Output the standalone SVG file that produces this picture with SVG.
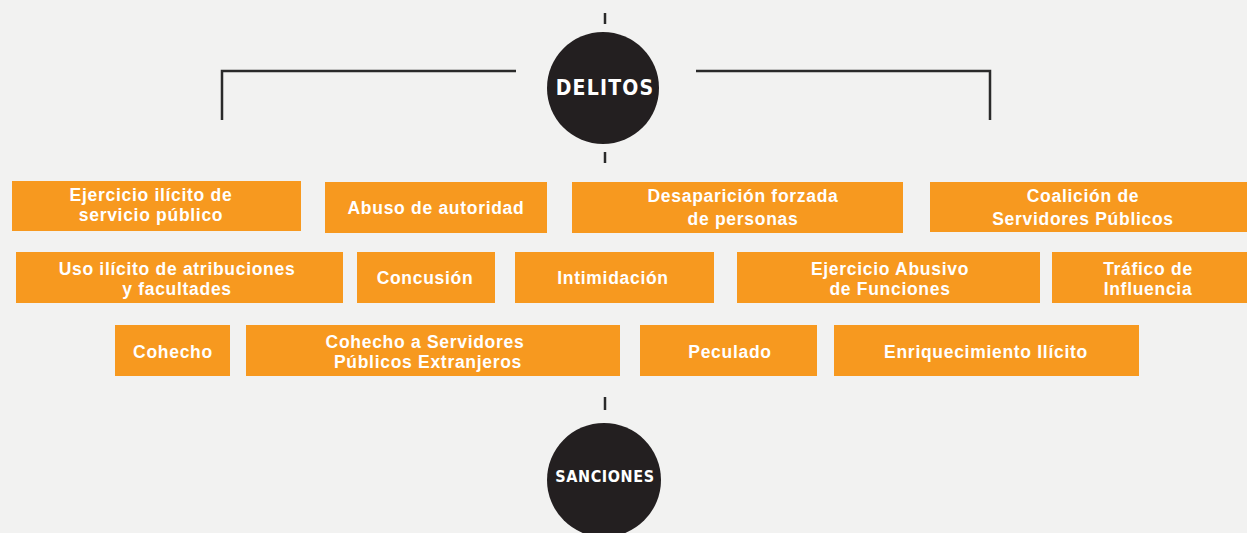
<svg xmlns="http://www.w3.org/2000/svg" width="1247" height="533" viewBox="0 0 1247 533">
<style>
.bg{fill:#f2f2f1}
.box{fill:#f7991f}
.t{font-family:"Liberation Sans",Arial,sans-serif;font-weight:700;font-size:17.5px;letter-spacing:0.7px;fill:#ffffff;text-anchor:middle}
.ln{stroke:#2a2a2a;stroke-width:2.5;fill:none}
.circ{fill:#231f20}
.ct{font-family:"DejaVu Sans Condensed","DejaVu Sans",sans-serif;font-weight:700;fill:#ffffff;text-anchor:middle}
</style>
<rect class="bg" x="0" y="0" width="1247" height="533"/>
<g id="connectors">
<line class="ln" x1="605" y1="13" x2="605" y2="24"/>
<line class="ln" x1="605" y1="152" x2="605" y2="163"/>
<polyline class="ln" points="222,120 222,71 516,71"/>
<polyline class="ln" points="696,71 990,71 990,120"/>
<line class="ln" x1="605" y1="397" x2="605" y2="410"/>
</g>
<g id="delitos">
<circle class="circ" cx="603" cy="88" r="56"/>
<text class="ct" x="605" y="95" font-size="21" letter-spacing="1.2">DELITOS</text>
</g>
<g id="sanciones">
<circle class="circ" cx="604" cy="480" r="57"/>
<text class="ct" x="605" y="482" font-size="16" letter-spacing="0.6">SANCIONES</text>
</g>
<g id="n1"><rect class="box" x="12" y="181" width="289" height="50"/><text class="t" x="151" y="201">Ejercicio ilícito de</text><text class="t" x="151" y="221">servicio público</text></g>
<g id="n2"><rect class="box" x="325" y="182" width="222" height="51"/><text class="t" x="436" y="214">Abuso de autoridad</text></g>
<g id="n3"><rect class="box" x="572" y="182" width="331" height="51"/><text class="t" x="743" y="202">Desaparición forzada</text><text class="t" x="743" y="225">de personas</text></g>
<g id="n4"><rect class="box" x="930" y="182" width="317" height="50"/><text class="t" x="1083" y="202">Coalición de</text><text class="t" x="1083" y="225">Servidores Públicos</text></g>
<g id="n5"><rect class="box" x="16" y="252" width="327" height="51"/><text class="t" x="177" y="275">Uso ilícito de atribuciones</text><text class="t" x="177" y="295">y facultades</text></g>
<g id="n6"><rect class="box" x="357" y="252" width="138" height="51"/><text class="t" x="425" y="284">Concusión</text></g>
<g id="n7"><rect class="box" x="515" y="252" width="199" height="51"/><text class="t" x="613" y="284">Intimidación</text></g>
<g id="n8"><rect class="box" x="737" y="252" width="303" height="51"/><text class="t" x="890" y="275">Ejercicio Abusivo</text><text class="t" x="890" y="295">de Funciones</text></g>
<g id="n9"><rect class="box" x="1052" y="252" width="195" height="51"/><text class="t" x="1148" y="275">Tráfico de</text><text class="t" x="1148" y="295">Influencia</text></g>
<g id="n10"><rect class="box" x="115" y="325" width="115" height="51"/><text class="t" x="173" y="358">Cohecho</text></g>
<g id="n11"><rect class="box" x="246" y="325" width="374" height="51"/><text class="t" x="425" y="348">Cohecho a Servidores</text><text class="t" x="428" y="368">Públicos Extranjeros</text></g>
<g id="n12"><rect class="box" x="640" y="325" width="177" height="51"/><text class="t" x="730" y="358">Peculado</text></g>
<g id="n13"><rect class="box" x="834" y="325" width="305" height="51"/><text class="t" x="986" y="358">Enriquecimiento Ilícito</text></g>
</svg>
